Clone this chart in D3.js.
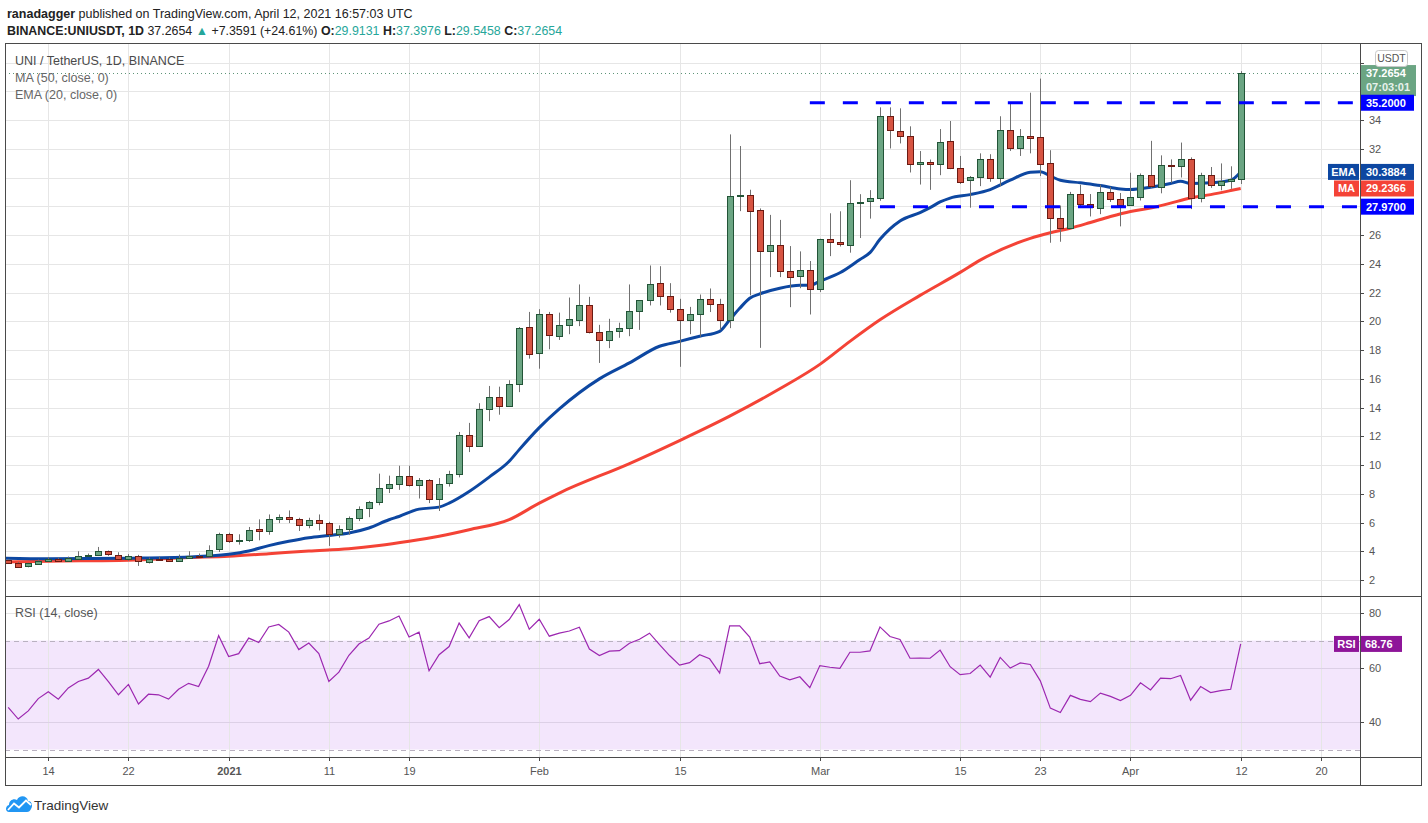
<!DOCTYPE html>
<html><head><meta charset="utf-8">
<script src="https://cdn.jsdelivr.net/npm/d3@7"></script>
<style>
body{margin:0;background:#fff;}
svg{display:block;font-family:"Liberation Sans",Arial,sans-serif;}
</style></head><body>
<svg id="c" width="1428" height="823"></svg>
<script>
// ---------------- DATA ----------------
const firstDay = "2020-12-10";
const lastDay = "2021-04-12";
const open = [3.38,3.21,2.92,3.15,3.35,3.49,3.35,3.51,3.70,3.75,4.00,3.77,3.47,3.68,3.26,3.49,3.49,3.38,3.54,3.70,3.67,4.11,
 5.18,4.71,4.81,5.52,5.45,6.26,6.40,6.26,5.85,6.19,5.99,5.22,5.57,6.33,6.96,7.42,8.40,8.67,9.23,8.60,8.95,7.63,8.74,9.37,12.09,11.33,13.90,14.74,14.12,15.65,19.63,
 17.74,20.47,18.96,19.75,20.07,21.14,19.26,18.70,19.33,19.54,20.72,21.49,22.67,21.77,20.86,20.10,20.51,21.56,21.21,20.10,28.71,28.80,27.71,24.84,25.28,23.51,23.16,23.58,
 22.26,25.74,25.53,25.33,28.26,28.33,28.56,34.26,33.26,32.86,30.91,31.05,30.91,32.51,30.68,29.81,30.05,31.31,29.98,33.30,32.08,32.92,32.85,31.03,27.17,26.47,28.85,28.15,27.87,29.00,28.50,
 28.06,28.64,30.16,29.35,30.89,30.80,31.26,28.57,30.19,29.49,29.79,29.9131];
const high = [3.45,3.25,3.20,3.42,3.60,3.56,3.63,4.00,3.84,4.30,4.05,3.93,3.80,3.75,3.56,3.63,3.56,3.77,4.00,3.84,4.41,5.29,
 5.29,5.18,5.69,6.22,6.56,6.56,6.84,6.33,6.33,6.56,6.05,5.80,6.42,7.12,7.50,9.40,9.26,9.95,9.95,9.09,9.02,9.09,9.60,12.30,12.93,14.30,15.50,15.45,15.90,19.60,20.65,
 20.84,20.65,20.60,21.65,22.56,21.70,19.75,20.17,19.90,22.56,21.30,23.88,23.83,22.65,21.56,21.00,21.86,22.28,21.56,33.00,32.19,29.15,27.85,27.40,27.05,25.23,24.86,24.19,
 25.74,27.51,27.65,29.81,28.84,29.12,34.88,34.88,34.81,33.56,31.84,31.25,33.37,33.93,31.50,30.10,31.68,31.62,34.26,35.24,33.37,35.90,36.88,31.90,28.05,29.00,29.50,28.85,29.50,29.35,28.92,
 30.33,30.28,32.55,31.54,31.26,32.43,31.40,30.33,30.73,30.98,30.78,37.3976];
const low = [3.15,2.90,2.88,3.08,3.30,3.28,3.28,3.42,3.60,3.70,3.68,3.42,3.33,2.98,3.15,3.38,3.33,3.33,3.49,3.56,3.60,3.95,
 4.58,4.46,4.65,4.76,5.15,5.96,5.96,5.41,5.60,5.45,4.37,4.95,5.15,6.10,6.37,7.20,8.05,8.27,8.50,7.67,7.35,6.80,8.50,9.14,10.90,11.30,13.05,13.50,14.10,15.07,17.40,
 16.70,18.05,18.70,19.10,19.66,19.15,17.10,18.13,18.85,18.96,19.40,21.10,21.10,20.60,16.83,19.10,18.93,20.64,19.40,19.52,27.66,21.80,18.15,23.07,23.07,20.98,22.30,20.47,
 22.03,24.53,25.20,24.77,25.79,27.14,28.38,32.02,32.37,30.35,29.51,29.14,30.16,30.58,29.55,27.90,29.40,29.70,29.40,31.85,31.50,31.68,30.10,25.46,25.53,26.47,28.00,27.29,27.45,28.30,26.60,
 28.06,28.40,29.28,28.90,29.63,30.00,27.80,28.27,29.28,29.11,29.21,29.5458];
const close = [3.19,2.94,3.15,3.35,3.49,3.35,3.56,3.70,3.77,4.00,3.77,3.47,3.68,3.31,3.49,3.45,3.38,3.56,3.70,3.63,4.11,5.18,
 4.71,4.81,5.50,5.41,6.26,6.40,6.26,5.85,6.19,5.96,5.22,5.57,6.33,6.96,7.40,8.40,8.67,9.23,8.60,8.95,7.63,8.67,9.37,12.09,11.33,13.90,14.74,14.12,15.65,19.56,17.74,
 20.47,19.00,19.75,20.17,21.14,19.26,18.70,19.33,19.54,20.72,21.49,22.60,21.77,20.86,20.10,20.51,21.56,21.21,20.10,28.71,28.80,27.71,24.84,25.28,23.49,23.09,23.58,22.26,
 25.74,25.51,25.37,28.26,28.33,28.56,34.26,33.26,32.93,30.91,31.05,30.91,32.44,30.65,29.74,30.05,31.31,29.98,33.30,32.08,32.92,32.78,30.96,27.17,26.47,28.85,28.15,27.94,29.00,28.50,28.06,
 28.64,30.16,29.39,30.89,30.80,31.26,28.57,30.19,29.49,29.79,29.93,37.2654];
const rsiValues = [45.5,41.2,44.2,48.7,51.2,48.5,52.6,55.0,56.2,59.4,54.9,50.1,53.9,46.7,50.3,50.1,48.5,52.1,54.3,53.1,60.6,71.8,
 64.1,65.2,70.9,69.3,75.0,75.9,73.1,66.7,69.1,65.2,55.0,58.4,64.6,68.7,70.9,76.0,77.2,79.0,71.3,73.1,58.9,64.8,67.8,76.4,71.0,77.3,78.8,74.7,77.7,83.2,74.2,
 77.8,71.6,72.7,73.5,74.9,66.9,64.5,66.1,66.3,69.0,70.5,72.7,68.5,64.5,61.0,61.9,64.8,63.3,58.1,75.4,75.4,71.3,61.5,62.2,57.0,55.6,56.7,52.7,
 60.8,60.2,59.8,65.7,65.7,66.2,75.0,71.5,70.4,63.5,63.6,63.5,66.5,60.4,57.5,57.9,61.0,56.6,63.8,59.9,61.8,61.2,55.2,45.2,43.6,49.9,48.4,47.6,50.7,49.5,48.0,
 49.9,54.5,51.9,56.2,56.0,57.2,48.1,53.1,50.9,51.6,52.1,68.76];
const emaDates = ["2020-12-09","2020-12-14","2020-12-22","2020-12-28","2021-01-01","2021-01-03","2021-01-05","2021-01-07","2021-01-09","2021-01-11","2021-01-13","2021-01-15","2021-01-17","2021-01-18","2021-01-20","2021-01-22","2021-01-23","2021-01-25","2021-01-27","2021-01-29","2021-01-30","2021-02-01","2021-02-03","2021-02-07","2021-02-10","2021-02-13","2021-02-15","2021-02-17","2021-02-19","2021-02-20","2021-02-21","2021-02-22","2021-02-23","2021-02-25","2021-02-27","2021-02-28","2021-03-01","2021-03-03","2021-03-05","2021-03-06","2021-03-07","2021-03-09","2021-03-11","2021-03-12","2021-03-13","2021-03-14","2021-03-16","2021-03-18","2021-03-20","2021-03-22","2021-03-23","2021-03-24","2021-03-25","2021-03-27","2021-03-29","2021-03-31","2021-04-01","2021-04-03","2021-04-05","2021-04-06","2021-04-07","2021-04-09","2021-04-11","2021-04-12"];
const emaValues = [3.53,3.48,3.52,3.60,3.79,4.02,4.39,4.69,4.94,5.10,5.27,5.62,6.19,6.42,6.93,7.07,7.35,8.16,9.16,10.26,11.07,12.6,13.9,15.99,17.1,18.26,18.6,18.96,19.3,20.1,20.9,21.6,21.9,22.3,22.5,22.5,22.79,23.37,24.3,24.77,25.7,26.98,27.56,27.9,28.3,28.57,28.81,29.16,29.81,30.37,30.4,30.1,29.81,29.63,29.44,29.2,29.16,29.32,29.58,29.74,29.58,29.63,29.81,30.3884];
const maDates = ["2020-12-09","2020-12-14","2020-12-22","2020-12-28","2021-01-01","2021-01-05","2021-01-09","2021-01-13","2021-01-16","2021-01-19","2021-01-22","2021-01-25","2021-01-29","2021-02-01","2021-02-03","2021-02-10","2021-02-15","2021-02-20","2021-02-25","2021-03-01","2021-03-04","2021-03-07","2021-03-11","2021-03-15","2021-03-17","2021-03-22","2021-03-24","2021-03-26","2021-03-28","2021-03-30","2021-04-01","2021-04-03","2021-04-05","2021-04-07","2021-04-09","2021-04-11","2021-04-12"];
const maValues = [3.25,3.31,3.38,3.56,3.65,3.83,4.02,4.18,4.40,4.70,5.05,5.50,6.20,7.35,8.05,10.1,11.7,13.4,15.3,17.0,18.6,20.1,21.8,23.4,24.25,25.77,26.16,26.47,26.87,27.29,27.64,27.87,28.22,28.57,28.81,29.09,29.2366];
const priceTicks = [2,4,6,8,10,12,14,16,18,20,22,24,26,28,30,32,34,36,38];
const rsiTicks = [80,60,40];
const timeTickDates = ["2020-12-14","2020-12-22","2021-01-01","2021-01-11","2021-01-19","2021-02-01","2021-02-15","2021-03-01","2021-03-15","2021-03-23","2021-04-01","2021-04-12","2021-04-20"];
const timeTickLabels = ["14","22","2021","11","19","Feb","15","Mar","15","23","Apr","12","20"];
const resistance = 35.2, support = 27.97;
const resistanceStart = "2021-02-28", supportStart = "2021-03-07";
const lastPrice = 37.2654, emaLast = 30.3884, maLast = 29.2366, rsiLast = 68.76;

// ---------------- LAYOUT ----------------
const parse = d3.utcParse("%Y-%m-%d");
const L = 5, R = 1360, AR = 1421, T = 43, MB = 596, RB = 757, B = 785;
const svg = d3.select("#c");
const dates = d3.utcDay.range(parse(firstDay), d3.utcDay.offset(parse(lastDay), 1));

const x = d3.scaleUtc().domain([parse("2020-12-14"), parse("2021-04-12")]).range([48.3, 1240.7]);
const y = d3.scaleLinear().domain([2, 34]).range([580, 120]);
const ry = d3.scaleLinear().domain([40, 80]).range([722.3, 613.3]);

const defs = svg.append("defs");
defs.append("clipPath").attr("id", "cm").append("rect").attr("x", L + 1).attr("y", T + 1).attr("width", R - L - 1).attr("height", MB - T - 1);
defs.append("clipPath").attr("id", "cr").append("rect").attr("x", L + 1).attr("y", MB + 1).attr("width", R - L - 1).attr("height", RB - MB - 1);

svg.append("rect").attr("width", 1428).attr("height", 823).attr("fill", "#fff");

// RSI band
svg.append("rect").attr("x", L).attr("width", R - L).attr("y", ry(70)).attr("height", ry(30) - ry(70)).attr("fill", "#f3e6fc");

// grids
const grid = svg.append("g").attr("stroke", "#e6e6e6").attr("stroke-width", 1);
timeTickDates.forEach(d => {
  const xx = Math.round(x(parse(d))) + 0.5;
  grid.append("line").attr("x1", xx).attr("x2", xx).attr("y1", T).attr("y2", RB);
});
priceTicks.forEach(p => {
  const yy = Math.round(y(p)) + 0.5;
  if (yy > T && yy < MB) grid.append("line").attr("x1", L).attr("x2", R).attr("y1", yy).attr("y2", yy);
});
rsiTicks.forEach(v => {
  const yy = Math.round(ry(v)) + 0.5;
  grid.append("line").attr("x1", L).attr("x2", R).attr("y1", yy).attr("y2", yy).attr("stroke", v === 80 ? "#e6e6e6" : "#dcd0e6");
});
[70, 30].forEach(v => {
  const yy = Math.round(ry(v)) + 0.5;
  svg.append("line").attr("x1", L).attr("x2", R).attr("y1", yy).attr("y2", yy)
    .attr("stroke", "#b9b1c0").attr("stroke-dasharray", "5,4");
});

// main pane contents
const main = svg.append("g").attr("clip-path", "url(#cm)");

// last price dotted line
main.append("line").attr("x1", L).attr("x2", R).attr("y1", Math.round(y(lastPrice)) + 0.5).attr("y2", Math.round(y(lastPrice)) + 0.5)
  .attr("stroke", "#5e9478").attr("stroke-dasharray", "1,3");

// MA & EMA
const lineGen = d3.line().curve(d3.curveMonotoneX).x(d => x(d[0])).y(d => y(d[1]));
main.append("path").datum(maDates.map((d, i) => [parse(d), maValues[i]]))
  .attr("d", lineGen).attr("fill", "none").attr("stroke", "#f44336").attr("stroke-width", 3).attr("stroke-linejoin", "round");
main.append("path").datum(emaDates.map((d, i) => [parse(d), emaValues[i]]))
  .attr("d", lineGen).attr("fill", "none").attr("stroke", "#0d47a1").attr("stroke-width", 3).attr("stroke-linejoin", "round");

// candles
const cg = main.append("g");
dates.forEach((d, i) => {
  const cx = Math.round(x(d)) + 0.5;
  const up = close[i] >= open[i];
  cg.append("line").attr("x1", cx).attr("x2", cx).attr("y1", y(high[i])).attr("y2", y(low[i]))
    .attr("stroke", "#707070").attr("stroke-width", 1);
  const top = y(Math.max(open[i], close[i])), bot = y(Math.min(open[i], close[i]));
  cg.append("rect").attr("x", cx - 3).attr("width", 6)
    .attr("y", Math.round(top) + 0.5).attr("height", Math.max(1, Math.round(bot - top)))
    .attr("fill", up ? "#6ba583" : "#d75442").attr("stroke", up ? "#225437" : "#6b1a12").attr("stroke-width", 1);
});

// support / resistance
main.append("line").attr("x1", x(parse(resistanceStart))).attr("x2", R).attr("y1", y(resistance)).attr("y2", y(resistance))
  .attr("stroke", "#0000ff").attr("stroke-width", 3).attr("stroke-dasharray", "15,18");
main.append("line").attr("x1", x(parse(supportStart))).attr("x2", R).attr("y1", y(support)).attr("y2", y(support))
  .attr("stroke", "#0000ff").attr("stroke-width", 3).attr("stroke-dasharray", "15,18");

// RSI line
const rsiG = svg.append("g").attr("clip-path", "url(#cr)");
rsiG.append("path").datum(rsiValues)
  .attr("d", d3.line().x((v, i) => x(dates[i])).y(v => ry(v)))
  .attr("fill", "none").attr("stroke", "#9c27b0").attr("stroke-width", 1.2);

// frame
const fr = svg.append("g").attr("stroke", "#4a4a4a").attr("stroke-width", 1).attr("fill", "none");
fr.append("rect").attr("x", L + 0.5).attr("y", T + 0.5).attr("width", AR - L).attr("height", B - T);
fr.append("line").attr("x1", R + 0.5).attr("x2", R + 0.5).attr("y1", T).attr("y2", B);
fr.append("line").attr("x1", L).attr("x2", AR).attr("y1", MB + 0.5).attr("y2", MB + 0.5);
fr.append("line").attr("x1", L).attr("x2", AR).attr("y1", RB + 0.5).attr("y2", RB + 0.5);

// covered ranges on the price axis (value labels drawn on top)
const boxes = [[y(lastPrice) - 8, y(lastPrice) + 23], [y(resistance) - 8, y(resistance) + 8], [y(emaLast) - 8, y(emaLast) + 8],
  [y(maLast) - 8, y(maLast) + 8], [y(support) - 8, y(support) + 8]];

// price axis
const pa = svg.append("g").attr("font-size", 11).attr("fill", "#555");
priceTicks.forEach(p => {
  const yy = y(p);
  if (yy < T + 8 || yy > MB - 6) return;
  svg.append("line").attr("x1", R).attr("x2", R + 4).attr("y1", Math.round(yy) + 0.5).attr("y2", Math.round(yy) + 0.5).attr("stroke", "#4a4a4a");
  if (boxes.some(b => yy + 5 > b[0] && yy - 5 < b[1])) return;
  pa.append("text").attr("x", R + 9).attr("y", yy + 4).text(p);
});
// RSI axis
rsiTicks.forEach(v => {
  const yy = ry(v);
  svg.append("line").attr("x1", R).attr("x2", R + 4).attr("y1", Math.round(yy) + 0.5).attr("y2", Math.round(yy) + 0.5).attr("stroke", "#4a4a4a");
  pa.append("text").attr("x", R + 9).attr("y", yy + 4).text(v);
});
// time axis
const ta = svg.append("g").attr("font-size", 11).attr("fill", "#555").attr("text-anchor", "middle");
timeTickDates.forEach((d, i) => {
  const xx = Math.round(x(parse(d))) + 0.5;
  svg.append("line").attr("x1", xx).attr("x2", xx).attr("y1", RB).attr("y2", RB + 4).attr("stroke", "#4a4a4a");
  ta.append("text").attr("x", xx).attr("y", 775).attr("font-weight", timeTickLabels[i] === "2021" ? "bold" : null).text(timeTickLabels[i]);
});

// value labels on price axis
function valBox(v, yc, color, text, tag, tagW) {
  const g = svg.append("g");
  g.append("rect").attr("x", R + 1).attr("y", yc - 8).attr("width", 53).attr("height", 16).attr("fill", color);
  g.append("text").attr("x", R + 6).attr("y", yc + 4).attr("fill", "#fff").attr("font-size", 11).attr("font-weight", "bold").text(text);
  if (tag) {
    g.append("rect").attr("x", R - 1 - tagW).attr("y", yc - 8).attr("width", tagW).attr("height", 16).attr("fill", color);
    g.append("text").attr("x", R - 1 - tagW / 2).attr("y", yc + 4).attr("text-anchor", "middle").attr("fill", "#fff").attr("font-size", 11).attr("font-weight", "bold").text(tag);
  }
}
// last price (two lines)
{
  const yc = y(lastPrice);
  svg.append("rect").attr("x", R + 1).attr("y", yc - 8).attr("width", 55).attr("height", 31).attr("fill", "#6ba583");
  svg.append("text").attr("x", R + 6).attr("y", yc + 4).attr("fill", "#fff").attr("font-size", 11).attr("font-weight", "bold").text(lastPrice.toFixed(4));
  svg.append("text").attr("x", R + 6).attr("y", yc + 18).attr("fill", "#e8f2ec").attr("font-size", 11).attr("font-weight", "bold").text("07:03:01");
}
valBox(resistance, y(resistance), "#0000ff", resistance.toFixed(4));
valBox(emaLast, y(emaLast), "#0d47a1", emaLast.toFixed(4), "EMA", 31);
valBox(maLast, y(maLast), "#f44336", maLast.toFixed(4), "MA", 25);
valBox(support, y(support), "#0000ff", support.toFixed(4));
// RSI value
{
  const yc = ry(rsiLast);
  svg.append("rect").attr("x", R + 1).attr("y", yc - 8).attr("width", 41).attr("height", 16).attr("fill", "#8e1599");
  svg.append("text").attr("x", R + 5).attr("y", yc + 4).attr("fill", "#fff").attr("font-size", 11).attr("font-weight", "bold").text(rsiLast.toFixed(2));
  svg.append("rect").attr("x", R - 26).attr("y", yc - 8).attr("width", 25).attr("height", 16).attr("fill", "#8e1599");
  svg.append("text").attr("x", R - 13.5).attr("y", yc + 4).attr("text-anchor", "middle").attr("fill", "#fff").attr("font-size", 11).attr("font-weight", "bold").text("RSI");
}
// USDT badge
svg.append("rect").attr("x", 1375.5).attr("y", 50.5).attr("width", 32).attr("height", 16).attr("rx", 3).attr("fill", "#fff").attr("stroke", "#c9c9c9");
svg.append("text").attr("x", 1391.5).attr("y", 62).attr("text-anchor", "middle").attr("font-size", 10.5).attr("fill", "#555").text("USDT");

// header
const h1 = svg.append("text").attr("x", 7).attr("y", 18).attr("font-size", 12.5).attr("fill", "#222");
h1.append("tspan").attr("font-weight", "bold").text("ranadagger");
h1.append("tspan").text(" published on TradingView.com, April 12, 2021 16:57:03 UTC");
const teal = "#26a69a";
const h2 = svg.append("text").attr("x", 7).attr("y", 35).attr("font-size", 12.4).attr("fill", "#222");
h2.append("tspan").attr("font-weight", "bold").text("BINANCE:UNIUSDT, 1D");
h2.append("tspan").text(" 37.2654 ");
h2.append("tspan").attr("fill", teal).text("▲");
h2.append("tspan").text(" +7.3591 (+24.61%) ");
[["O:", "29.9131"], ["H:", "37.3976"], ["L:", "29.5458"], ["C:", "37.2654"]].forEach((p, i) => {
  h2.append("tspan").attr("font-weight", "bold").text((i ? " " : "") + p[0]);
  h2.append("tspan").attr("fill", teal).text(p[1]);
});

// pane legends
svg.append("text").attr("x", 15).attr("y", 65).attr("font-size", 12.5).attr("fill", "#4a4a4a").text("UNI / TetherUS, 1D, BINANCE");
svg.append("text").attr("x", 15).attr("y", 82).attr("font-size", 12.5).attr("fill", "#666").text("MA (50, close, 0)");
svg.append("text").attr("x", 15).attr("y", 99).attr("font-size", 12.5).attr("fill", "#666").text("EMA (20, close, 0)");
svg.append("text").attr("x", 15).attr("y", 617).attr("font-size", 12.5).attr("fill", "#555").text("RSI (14, close)");

// TradingView logo
const lg = svg.append("g");
lg.append("path").attr("d", "M9,812 C5,812 5,806 9,805 C9,800 14,798 17,800 C19,795 27,795 28,801 C32,801 33,806 31,809 C30,811 29,812 27,812 Z").attr("fill", "#2196f3");
lg.append("polyline").attr("points", "8,810 14,803.5 19,807.5 26,800.5 31,805").attr("fill", "none").attr("stroke", "#fff").attr("stroke-width", 1.8);
svg.append("text").attr("x", 34).attr("y", 809.5).attr("font-size", 13.5).attr("fill", "#333").text("TradingView");
</script>
</body></html>
